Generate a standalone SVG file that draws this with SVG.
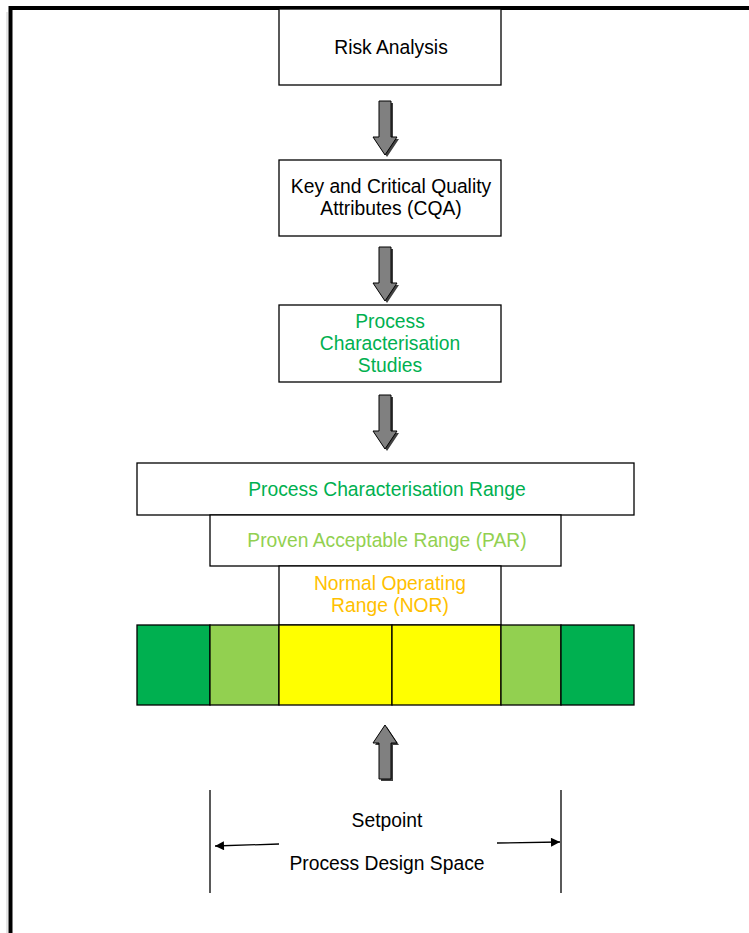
<svg xmlns="http://www.w3.org/2000/svg" width="749" height="933" viewBox="0 0 749 933">
<defs>
<style>
.box{fill:#fff;stroke:#000;stroke-width:1.3}
.seg{stroke:#000;stroke-width:1.3}
.t{font-family:"Liberation Sans",Arial,sans-serif;font-size:19.3px;text-anchor:middle}
.blk{fill:#000}
.g1{fill:#00B050}
.g2{fill:#92D050}
.y1{fill:#FFC000}
.arr{fill:#808080;stroke:#000;stroke-width:1}
.sh{fill:#404040}
.ln{stroke:#000;stroke-width:1.3;fill:none}
</style>
<path id="down" d="M-6,0 H6 V36 H12 L0,54 L-12,36 H-6 Z"/>
<marker id="ah" viewBox="0 0 10 10" refX="10" refY="5" markerWidth="12" markerHeight="9" markerUnits="userSpaceOnUse" orient="auto">
<path d="M0,0 L10,5 L0,10 Z" fill="#000"/>
</marker>
</defs>
<rect width="749" height="933" fill="#fff"/>
<line x1="7" y1="12" x2="7" y2="933" stroke="#ccc" stroke-width="1"/>
<path d="M10.5,933 V8 H749" fill="none" stroke="#000" stroke-width="4"/>

<g id="risk">
<rect class="box" x="279" y="9" width="222" height="76"/>
<text class="t blk" x="391" y="54">Risk Analysis</text>
</g>
<g id="cqa">
<rect class="box" x="279" y="160" width="222" height="76"/>
<text class="t blk" x="391" y="193">Key and Critical Quality</text>
<text class="t blk" x="391" y="215">Attributes (CQA)</text>
</g>
<g id="pcs">
<rect class="box" x="279" y="305" width="222" height="77"/>
<text class="t g1" x="390" y="328">Process</text>
<text class="t g1" x="390" y="350">Characterisation</text>
<text class="t g1" x="390" y="372">Studies</text>
</g>
<g id="pcr">
<rect class="box" x="137" y="463" width="497" height="52"/>
<text class="t g1" x="387" y="496">Process Characterisation Range</text>
</g>
<g id="par">
<rect class="box" x="210" y="515" width="351" height="51"/>
<text class="t g2" x="387" y="547">Proven Acceptable Range (PAR)</text>
</g>
<g id="nor">
<rect class="box" x="279" y="566" width="222" height="59"/>
<text class="t y1" x="390" y="590">Normal Operating</text>
<text class="t y1" x="390" y="612">Range (NOR)</text>
</g>
<g id="bar">
<rect class="seg" x="137" y="625" width="73" height="80" fill="#00B050"/>
<rect class="seg" x="210" y="625" width="69" height="80" fill="#92D050"/>
<rect class="seg" x="279" y="625" width="113" height="80" fill="#FFFF00"/>
<rect class="seg" x="392" y="625" width="109" height="80" fill="#FFFF00"/>
<rect class="seg" x="501" y="625" width="60" height="80" fill="#92D050"/>
<rect class="seg" x="561" y="625" width="73" height="80" fill="#00B050"/>
</g>
<g id="design-space">
<line class="ln" x1="210" y1="790" x2="210" y2="893"/>
<line class="ln" x1="561" y1="790" x2="561" y2="893"/>
<text class="t blk" x="387" y="827">Setpoint</text>
<text class="t blk" x="387" y="870">Process Design Space</text>
</g>
<g id="connectors">
<use href="#down" class="sh" transform="translate(387,103)"/>
<use href="#down" class="arr" transform="translate(385,101)"/>
<use href="#down" class="sh" transform="translate(387,249)"/>
<use href="#down" class="arr" transform="translate(385,247)"/>
<use href="#down" class="sh" transform="translate(387,397)"/>
<use href="#down" class="arr" transform="translate(385,395)"/>
<use href="#down" class="sh" transform="translate(387,781) scale(1,-1)"/>
<use href="#down" class="arr" transform="translate(385,779) scale(1,-1)"/>
<line class="ln" x1="279" y1="844" x2="215" y2="846" marker-end="url(#ah)"/>
<line class="ln" x1="497" y1="843" x2="560" y2="842" marker-end="url(#ah)"/>
</g>
</svg>
